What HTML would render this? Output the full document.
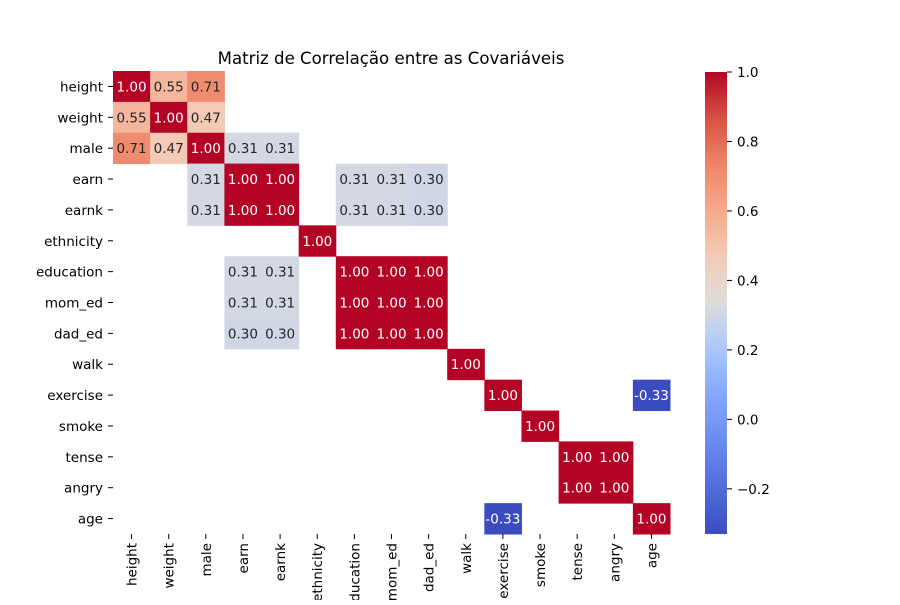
<!DOCTYPE html>
<html><head><meta charset="utf-8"><style>
body{margin:0;background:#fff;font-family:"Liberation Sans","DejaVu Sans",sans-serif}
text{font-family:"DejaVu Sans","Liberation Sans",sans-serif}
</style></head><body>
<svg id="chart" width="900" height="600" xmlns="http://www.w3.org/2000/svg">
<defs><linearGradient id="cbg" x1="0" y1="1" x2="0" y2="0"></linearGradient></defs>
<text x="391" y="64" text-anchor="middle" font-size="16.6">Matriz de Correlação entre as Covariáveis</text>
<g id="cells"></g><g id="axes"></g><g id="cbar"></g>
</svg>
<script>
const labels=["height","weight","male","earn","earnk","ethnicity","education","mom_ed","dad_ed","walk","exercise","smoke","tense","angry","age"];
const pairs=[["height","height",1],["height","weight",0.55],["height","male",0.71],["weight","male",0.47],
["male","earn",0.31],["male","earnk",0.31],["earn","earnk",1.0],["earn","education",0.31],["earn","mom_ed",0.31],["earn","dad_ed",0.30],
["earnk","education",0.31],["earnk","mom_ed",0.31],["earnk","dad_ed",0.30],["education","mom_ed",1.0],["education","dad_ed",1.0],["mom_ed","dad_ed",1.0],
["exercise","age",-0.33],["tense","angry",1.0]];
const cbTicks=[-0.2,0,0.2,0.4,0.6,0.8,1.0];
const vmin=-0.33,vmax=1.0;
const stops=[[0,"#3b4cc0"],[0.1,"#516ddb"],[0.2,"#6a8bef"],[0.3,"#84a7fc"],[0.4,"#aac7fd"],[0.5,"#dddcdc"],[0.6,"#f2cbb7"],[0.7,"#f6a98b"],[0.8,"#ee8468"],[0.9,"#d65244"],[1,"#b40426"]];
function hex(h){return [1,3,5].map(i=>parseInt(h.substr(i,2),16));}
function cmap(t){t=Math.max(0,Math.min(1,t));for(let i=1;i<stops.length;i++){if(t<=stops[i][0]){const a=stops[i-1],b=stops[i];const f=(t-a[0])/(b[0]-a[0]);const A=hex(a[1]),B=hex(b[1]);return A.map((v,k)=>Math.round(v+(B[k]-v)*f));}}return hex(stops[10][1]);}
const n=labels.length;
const M=labels.map(()=>labels.map(()=>null));
labels.forEach((l,i)=>M[i][i]=1.0);
pairs.forEach(p=>{const i=labels.indexOf(p[0]),j=labels.indexOf(p[1]);M[i][j]=p[2];M[j][i]=p[2];});
const x0=113,y0=71,cw=(670-113)/n,ch=(534-71)/n;
const NS="http://www.w3.org/2000/svg";
function mk(tag,attrs,parent){const e=document.createElementNS(NS,tag);for(const k in attrs)e.setAttribute(k,attrs[k]);parent.appendChild(e);return e;}
const cells=document.getElementById('cells'),axes=document.getElementById('axes'),cbar=document.getElementById('cbar');
for(let i=0;i<n;i++)for(let j=0;j<n;j++){const v=M[i][j];if(v===null)continue;
 const c=cmap((v-vmin)/(vmax-vmin));
 const r=mk('rect',{x:x0+j*cw,y:y0+i*ch,width:cw+0.5,height:ch+0.5,fill:`rgb(${c})`},cells);
 
 
 const lum=(0.2126*c[0]+0.7152*c[1]+0.0722*c[2])/255;
 const t=mk('text',{x:x0+(j+0.5)*cw,y:y0+(i+0.5)*ch+5,'text-anchor':'middle','font-size':13.5,fill:lum>0.5?'#262626':'#fff'},cells);
 t.textContent=v.toFixed(2);
 
 
}
labels.forEach((l,i)=>{
 const y=y0+(i+0.5)*ch;
 mk('line',{x1:x0-5,x2:x0,y1:y,y2:y,stroke:'#000'},axes);
 const t=mk('text',{x:x0-10,y:y+5,'text-anchor':'end','font-size':13.5},axes);t.textContent=l;
 
 
 const x=x0+(i+0.5)*cw;
 mk('line',{x1:x,x2:x,y1:534,y2:539,stroke:'#000'},axes);
 const u=mk('text',{x:x+5,y:543,'text-anchor':'end','font-size':13.5,transform:`rotate(-90 ${x+5} 543)`},axes);u.textContent=l;
 
 
});
const cbx=705,cbw=22,cby0=72,cby1=534;
const g=document.getElementById('cbg');
for(let k=0;k<=20;k++){const c=cmap(k/20);mk('stop',{offset:k/20,'stop-color':`rgb(${c})`},g);}
const cb=mk('rect',{x:cbx,y:cby0,width:cbw,height:cby1-cby0,fill:'url(#cbg)'},cbar);


cbTicks.forEach(v=>{const y=cby1-(v-vmin)/(vmax-vmin)*(cby1-cby0);
 mk('line',{x1:cbx+cbw,x2:cbx+cbw+5,y1:y,y2:y,stroke:'#000'},cbar);
 const t=mk('text',{x:cbx+cbw+10,y:y+5,'font-size':13.5},cbar);t.textContent=v<0?'\u2212'+Math.abs(v).toFixed(1):v.toFixed(1);
 
 
});
</script>
</body></html>
